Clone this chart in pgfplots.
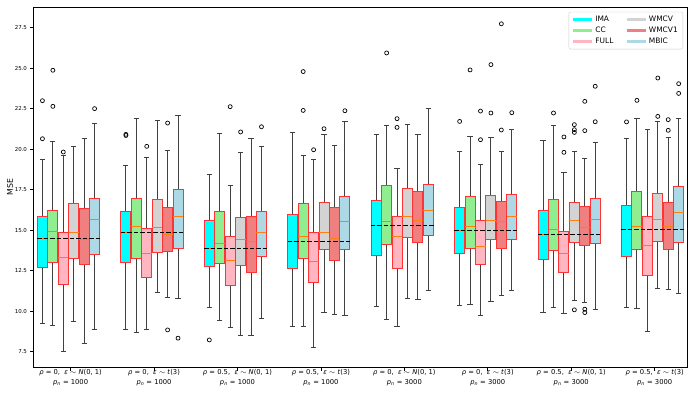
\documentclass[border=0pt]{standalone}
\usepackage{fontspec}
\setmainfont{DejaVu Sans}
\usepackage{pgfplots}
\pgfplotsset{compat=1.18}
\usepgfplotslibrary{statistics}

\definecolor{cIMA}{HTML}{00FFFF}
\definecolor{cCC}{HTML}{90EE90}
\definecolor{cFULL}{HTML}{FFB6C1}
\definecolor{cWMCV}{HTML}{D3D3D3}
\definecolor{cWMCV1}{HTML}{F08080}
\definecolor{cMBIC}{HTML}{ADD8E6}
\definecolor{mplorange}{HTML}{FF7F0E}

\newcommand{\lab}[3]{\textit{ρ} = #1,\ \ \textit{ε} $\sim$ #2\\\textit{p}\textsubscript{\textit{n}} = #3}

\begin{document}
\begin{tikzpicture}
\path[use as bounding box] (0,0) rectangle (698bp,396bp);
\begin{axis}[
    at={(34bp,28.7bp)}, anchor=south west,
    width=653bp, height=360bp, scale only axis,
    xmin=-0.81, xmax=61.8, ymin=6.53, ymax=28.77,
    axis line style={line width=1bp},
    tick align=outside, major tick length=3.5bp,
    tick style={black, line width=0.8bp},
    xtick pos=bottom, ytick pos=left,
    xtick={2.7,10.7,18.7,26.7,34.7,42.7,50.7,58.7},
    xticklabels={
      {\lab{0}{\textit{N}(0, 1)}{1000}},
      {\lab{0}{\textit{t}(3)}{1000}},
      {\lab{0.5}{\textit{N}(0, 1)}{1000}},
      {\lab{0.5}{\textit{t}(3)}{1000}},
      {\lab{0}{\textit{N}(0, 1)}{3000}},
      {\lab{0}{\textit{t}(3)}{3000}},
      {\lab{0.5}{\textit{N}(0, 1)}{3000}},
      {\lab{0.5}{\textit{t}(3)}{3000}}},
    xticklabel style={align=center, font=\fontsize{6.8}{9.5}\selectfont, yshift=4.5bp},
    ytick={7.5,10,12.5,15,17.5,20,22.5,25,27.5},
    yticklabel style={font=\fontsize{5.5}{6}\selectfont,
      /pgf/number format/.cd, fixed, fixed zerofill, precision=1, assume math mode=true},
    ylabel={MSE},
    every axis y label/.style={at={(axis description cs:-0.0368,0.5)}, rotate=90, anchor=center,
      font=\fontsize{7.8}{9}\selectfont},
    legend columns=2,
    legend cell align=left,
    legend style={at={(1,1)}, anchor=north east, xshift=-4bp, yshift=-4.5bp,
      draw=black!20, rounded corners=2bp, font=\fontsize{7.5}{9}\selectfont,
      /tikz/every even column/.append style={column sep=10bp}},
    legend image code/.code={\draw[#1, line width=2.5bp] (0bp,0bp) -- (19bp,0bp);},
    bp/.style={draw=red!80, line width=1bp, mark=o, mark size=2bp,
      mark options={draw=black, fill=none, solid, line width=0.7bp},
      boxplot/draw direction=y,
      boxplot/box extend=0.96, boxplot/whisker extend=0.5,
      boxplot/every whisker/.style={draw=black!75, line width=1bp},
      boxplot/every median/.style={draw=mplorange, line width=1bp}},
    ima/.style={bp, fill=cIMA},
    cc/.style={bp, fill=cCC},
    full/.style={bp, fill=cFULL},
    wmcv/.style={bp, fill=cWMCV},
    wmcva/.style={bp, fill=cWMCV1},
    mbic/.style={bp, fill=cMBIC},
    ref/.style={black, dash pattern=on 4.5bp off 2bp, line width=1.2bp, forget plot},
]
% legend (row-wise order for two columns)
\addlegendimage{cIMA}\addlegendentry{IMA}
\addlegendimage{cWMCV}\addlegendentry{WMCV}
\addlegendimage{cCC}\addlegendentry{CC}
\addlegendimage{cWMCV1}\addlegendentry{WMCV1}
\addlegendimage{cFULL}\addlegendentry{FULL}
\addlegendimage{cMBIC}\addlegendentry{MBIC}

% group 1: rho=0, N(0,1), p=1000
\addplot[ima, forget plot, boxplot prepared={draw position=0, lower whisker=9.21, lower quartile=12.72, median=14.49, upper quartile=15.85, upper whisker=19.35}] coordinates {(0,20.65) (0,23.0)};
\addplot[cc, forget plot, boxplot prepared={draw position=1, lower whisker=9.11, lower quartile=13.03, median=14.92, upper quartile=16.22, upper whisker=20.49}] coordinates {(1,22.65) (1,24.88)};
\addplot[full, forget plot, boxplot prepared={draw position=2, lower whisker=7.5, lower quartile=11.67, median=13.34, upper quartile=14.86, upper whisker=19.6}] coordinates {(2,19.83)};
\addplot[wmcv, forget plot, boxplot prepared={draw position=3, lower whisker=9.35, lower quartile=13.27, median=14.86, upper quartile=16.63, upper whisker=20.14}] coordinates {};
\addplot[wmcva, forget plot, boxplot prepared={draw position=4, lower whisker=7.97, lower quartile=12.86, median=14.41, upper quartile=16.37, upper whisker=20.65}] coordinates {};
\addplot[mbic, forget plot, boxplot prepared={draw position=5, lower whisker=8.88, lower quartile=13.52, median=15.64, upper quartile=16.98, upper whisker=21.62}] coordinates {(5,22.51)};
\addplot[ref] coordinates {(-0.5,14.49) (5.5,14.49)};

% group 2: rho=0, t(3), p=1000
\addplot[ima, forget plot, boxplot prepared={draw position=8, lower whisker=8.88, lower quartile=13.03, median=14.86, upper quartile=16.16, upper whisker=18.98}] coordinates {(8,20.85) (8,20.92)};
\addplot[cc, forget plot, boxplot prepared={draw position=9, lower whisker=8.67, lower quartile=13.27, median=15.25, upper quartile=16.98, upper whisker=21.93}] coordinates {};
\addplot[full, forget plot, boxplot prepared={draw position=10, lower whisker=8.88, lower quartile=12.08, median=13.56, upper quartile=15.09, upper whisker=19.48}] coordinates {(10,20.18)};
\addplot[wmcv, forget plot, boxplot prepared={draw position=11, lower whisker=11.17, lower quartile=13.62, median=15.17, upper quartile=16.92, upper whisker=21.78}] coordinates {};
\addplot[wmcva, forget plot, boxplot prepared={draw position=12, lower whisker=10.86, lower quartile=13.71, median=14.74, upper quartile=16.43, upper whisker=19.91}] coordinates {(12,21.62) (12,8.84)};
\addplot[mbic, forget plot, boxplot prepared={draw position=13, lower whisker=10.76, lower quartile=13.87, median=15.83, upper quartile=17.5, upper whisker=22.09}] coordinates {(13,8.33)};
\addplot[ref] coordinates {(7.5,14.86) (13.5,14.86)};

% group 3: rho=0.5, N(0,1), p=1000
\addplot[ima, forget plot, boxplot prepared={draw position=16, lower whisker=10.2, lower quartile=12.76, median=13.87, upper quartile=15.58, upper whisker=18.44}] coordinates {(16,8.22)};
\addplot[cc, forget plot, boxplot prepared={draw position=17, lower whisker=9.42, lower quartile=12.97, median=14.18, upper quartile=16.16, upper whisker=20.98}] coordinates {};
\addplot[full, forget plot, boxplot prepared={draw position=18, lower whisker=9.0, lower quartile=11.6, median=13.15, upper quartile=14.63, upper whisker=17.77}] coordinates {(18,22.63)};
\addplot[wmcv, forget plot, boxplot prepared={draw position=19, lower whisker=8.51, lower quartile=12.8, median=14.42, upper quartile=15.81, upper whisker=19.83}] coordinates {(19,21.07)};
\addplot[wmcva, forget plot, boxplot prepared={draw position=20, lower whisker=8.51, lower quartile=12.38, median=14.33, upper quartile=15.87, upper whisker=20.65}] coordinates {};
\addplot[mbic, forget plot, boxplot prepared={draw position=21, lower whisker=9.54, lower quartile=13.36, median=14.86, upper quartile=16.18, upper whisker=20.14}] coordinates {(21,21.39)};
\addplot[ref] coordinates {(15.5,13.87) (21.5,13.87)};

% group 4: rho=0.5, t(3), p=1000
\addplot[ima, forget plot, boxplot prepared={draw position=24, lower whisker=9.03, lower quartile=12.61, median=14.28, upper quartile=16.0, upper whisker=21.04}] coordinates {};
\addplot[cc, forget plot, boxplot prepared={draw position=25, lower whisker=9.03, lower quartile=13.23, median=14.59, upper quartile=16.63, upper whisker=19.64}] coordinates {(25,22.4) (25,24.8)};
\addplot[full, forget plot, boxplot prepared={draw position=26, lower whisker=7.75, lower quartile=11.77, median=13.07, upper quartile=14.86, upper whisker=19.37}] coordinates {(26,19.97)};
\addplot[wmcv, forget plot, boxplot prepared={draw position=27, lower whisker=9.94, lower quartile=13.79, median=14.88, upper quartile=16.71, upper whisker=20.94}] coordinates {(27,21.27)};
\addplot[wmcva, forget plot, boxplot prepared={draw position=28, lower whisker=9.77, lower quartile=13.15, median=14.49, upper quartile=16.43, upper whisker=20.24}] coordinates {};
\addplot[mbic, forget plot, boxplot prepared={draw position=29, lower whisker=9.73, lower quartile=13.81, median=15.56, upper quartile=17.08, upper whisker=21.69}] coordinates {(29,22.38)};
\addplot[ref] coordinates {(23.5,14.28) (29.5,14.28)};

% group 5: rho=0, N(0,1), p=3000
\addplot[ima, forget plot, boxplot prepared={draw position=32, lower whisker=10.28, lower quartile=13.46, median=15.29, upper quartile=16.86, upper whisker=20.94}] coordinates {};
\addplot[cc, forget plot, boxplot prepared={draw position=33, lower whisker=9.5, lower quartile=14.1, median=15.52, upper quartile=17.79, upper whisker=21.46}] coordinates {(33,25.95)};
\addplot[full, forget plot, boxplot prepared={draw position=34, lower whisker=9.04, lower quartile=12.61, median=14.64, upper quartile=15.83, upper whisker=18.84}] coordinates {(34,21.35) (34,21.89)};
\addplot[wmcv, forget plot, boxplot prepared={draw position=35, lower whisker=10.8, lower quartile=14.57, median=15.83, upper quartile=17.6, upper whisker=21.56}] coordinates {};
\addplot[wmcva, forget plot, boxplot prepared={draw position=36, lower whisker=10.7, lower quartile=14.25, median=15.6, upper quartile=17.37, upper whisker=20.9}] coordinates {};
\addplot[mbic, forget plot, boxplot prepared={draw position=37, lower whisker=11.25, lower quartile=14.65, median=16.22, upper quartile=17.85, upper whisker=22.49}] coordinates {};
\addplot[ref] coordinates {(31.5,15.29) (37.5,15.29)};

% group 6: rho=0, t(3), p=3000
\addplot[ima, forget plot, boxplot prepared={draw position=40, lower whisker=10.34, lower quartile=13.58, median=15.0, upper quartile=16.43, upper whisker=19.87}] coordinates {(40,21.72)};
\addplot[cc, forget plot, boxplot prepared={draw position=41, lower whisker=10.39, lower quartile=13.85, median=15.25, upper quartile=17.07, upper whisker=20.78}] coordinates {(41,24.9)};
\addplot[full, forget plot, boxplot prepared={draw position=42, lower whisker=9.73, lower quartile=12.86, median=14.02, upper quartile=15.58, upper whisker=19.04}] coordinates {(42,20.59) (42,22.36)};
\addplot[wmcv, forget plot, boxplot prepared={draw position=43, lower whisker=10.59, lower quartile=14.41, median=15.58, upper quartile=17.15, upper whisker=20.73}] coordinates {(43,22.24) (43,25.23)};
\addplot[wmcva, forget plot, boxplot prepared={draw position=44, lower whisker=10.94, lower quartile=13.89, median=15.52, upper quartile=16.8, upper whisker=19.89}] coordinates {(44,21.19) (44,27.75)};
\addplot[mbic, forget plot, boxplot prepared={draw position=45, lower whisker=11.25, lower quartile=14.41, median=15.87, upper quartile=17.19, upper whisker=21.25}] coordinates {(45,22.26)};
\addplot[ref] coordinates {(39.5,15.0) (45.5,15.0)};

% group 7: rho=0.5, N(0,1), p=3000
\addplot[ima, forget plot, boxplot prepared={draw position=48, lower whisker=9.91, lower quartile=13.2, median=14.75, upper quartile=16.22, upper whisker=20.53}] coordinates {};
\addplot[cc, forget plot, boxplot prepared={draw position=49, lower whisker=10.22, lower quartile=13.73, median=15.07, upper quartile=16.92, upper whisker=21.48}] coordinates {(49,22.24)};
\addplot[full, forget plot, boxplot prepared={draw position=50, lower whisker=9.87, lower quartile=12.37, median=13.58, upper quartile=14.92, upper whisker=18.57}] coordinates {(50,19.81) (50,20.76)};
\addplot[wmcv, forget plot, boxplot prepared={draw position=51, lower whisker=10.65, lower quartile=14.24, median=15.6, upper quartile=16.74, upper whisker=19.87}] coordinates {(51,21.04) (51,21.21) (51,21.52) (51,10.08)};
\addplot[wmcva, forget plot, boxplot prepared={draw position=52, lower whisker=10.53, lower quartile=14.04, median=15.17, upper quartile=16.47, upper whisker=19.4}] coordinates {(52,21.15) (52,22.96) (52,10.12) (52,9.91)};
\addplot[mbic, forget plot, boxplot prepared={draw position=53, lower whisker=10.12, lower quartile=14.16, median=15.64, upper quartile=16.98, upper whisker=20.39}] coordinates {(53,21.7) (53,23.89)};
\addplot[ref] coordinates {(47.5,14.75) (53.5,14.75)};

% group 8: rho=0.5, t(3), p=3000
\addplot[ima, forget plot, boxplot prepared={draw position=56, lower whisker=10.2, lower quartile=13.37, median=15.02, upper quartile=16.53, upper whisker=20.67}] coordinates {(56,21.69)};
\addplot[cc, forget plot, boxplot prepared={draw position=57, lower whisker=10.14, lower quartile=13.83, median=15.23, upper quartile=17.39, upper whisker=21.91}] coordinates {(57,23.02)};
\addplot[full, forget plot, boxplot prepared={draw position=58, lower whisker=8.74, lower quartile=12.22, median=14.05, upper quartile=15.85, upper whisker=21.25}] coordinates {};
\addplot[wmcv, forget plot, boxplot prepared={draw position=59, lower whisker=11.4, lower quartile=14.33, median=15.68, upper quartile=17.29, upper whisker=21.72}] coordinates {(59,22.03) (59,24.4)};
\addplot[wmcva, forget plot, boxplot prepared={draw position=60, lower whisker=11.31, lower quartile=13.79, median=15.21, upper quartile=16.68, upper whisker=20.73}] coordinates {(60,21.17) (60,21.83)};
\addplot[mbic, forget plot, boxplot prepared={draw position=61, lower whisker=11.12, lower quartile=14.22, median=16.12, upper quartile=17.7, upper whisker=21.91}] coordinates {(61,23.45) (61,24.05)};
\addplot[ref] coordinates {(55.5,15.02) (61.5,15.02)};
\end{axis}
\end{tikzpicture}
\end{document}
